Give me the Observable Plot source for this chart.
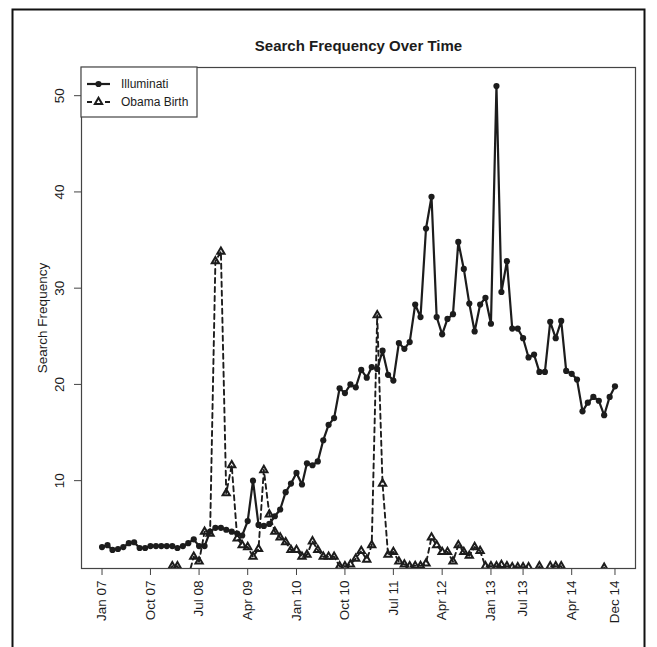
<!DOCTYPE html>
<html>
<head>
<meta charset="utf-8">
<script src="https://cdn.jsdelivr.net/npm/d3@7"></script>
<script src="https://cdn.jsdelivr.net/npm/@observablehq/plot@0.6"></script>
<style>
  html, body { margin: 0; padding: 0; background: #fff; }
  #chart { width: 657px; height: 647px; }
  svg { font-family: "Liberation Sans", Arial, Helvetica, sans-serif; }
</style>
</head>
<body>
<div id="chart"></div>
<script>
// ---- data (monthly, Jan 2007 – Dec 2014) ----
const firstMonth = "2007-01";
const lastMonth = "2014-12";

const illuminati = [
  3.1, 3.3, 2.8, 2.9, 3.1, 3.5, 3.6, 3.0, 3.0, 3.2, 3.2, 3.2,
  3.2, 3.2, 3.0, 3.2, 3.5, 3.9, 3.2, 3.2, 4.7, 5.1, 5.1, 4.9,
  4.7, 4.5, 4.3, 5.8, 10.0, 5.4, 5.3, 5.5, 6.3, 7.0, 8.8, 9.7,
  10.8, 9.6, 11.8, 11.6, 12.0, 14.2, 15.8, 16.5, 19.6, 19.1, 20.0, 19.7,
  21.5, 20.7, 21.8, 21.6, 23.5, 21.0, 20.4, 24.3, 23.7, 24.4, 28.3, 27.0,
  36.2, 39.5, 27.0, 25.2, 26.8, 27.3, 34.8, 32.0, 28.4, 25.5, 28.3, 29.0,
  26.3, 51.0, 29.6, 32.8, 25.8, 25.8, 24.8, 22.8, 23.1, 21.3, 21.3, 26.5,
  24.8, 26.6, 21.4, 21.1, 20.5, 17.2, 18.1, 18.7, 18.3, 16.8, 18.7, 19.8
];

const obamaBirth = [
  0, 0, 0, 0, 0, 0, 0, 0, 0, 0, 0, 0,
  0, 1.1, 1.1, 0, 0, 2.1, 1.6, 4.7, 4.5, 32.8, 33.8, 8.7,
  11.6, 4.0, 3.3, 3.1, 2.1, 2.9, 11.1, 6.5, 4.7, 4.1, 3.6, 2.8,
  2.8, 2.1, 2.3, 3.7, 2.8, 2.1, 2.1, 2.1, 1.1, 1.1, 1.3, 1.9,
  2.7, 1.8, 3.3, 27.2, 9.7, 2.3, 2.6, 1.6, 1.3, 1.1, 1.15, 1.15,
  1.4, 4.1, 3.3, 2.6, 2.6, 1.6, 3.3, 2.6, 2.2, 3.1, 2.7, 1.1,
  1.1, 1.1, 1.25, 1.1, 1.0, 1.0, 1.0, 1.0, 0, 1.1, 0, 1.1,
  1.1, 1.1, 0, 0, 0, 0, 0, 0, 0, 0.95, 0, 0
];

const xTickMonths = ["2007-01", "2007-10", "2008-07", "2009-04", "2010-01", "2010-10",
                     "2011-07", "2012-04", "2013-01", "2013-07", "2014-04", "2014-12"];
const xTickLabels = ["Jan 07", "Oct 07", "Jul 08", "Apr 09", "Jan 10", "Oct 10",
                     "Jul 11", "Apr 12", "Jan 13", "Jul 13", "Apr 14", "Dec 14"];
const yTicks = [10, 20, 30, 40, 50];

const titleText = "Search Frequency Over Time";
const yLabel = "Search Frequency";
const seriesNames = ["Illuminati", "Obama Birth"];

// ---- build ----
const parseMonth = d3.utcParse("%Y-%m");
const start = parseMonth(firstMonth);
const end = parseMonth(lastMonth);
const months = d3.utcMonth.range(start, d3.utcMonth.offset(end, 1));

const illumRows = months.map((date, i) => ({date, value: illuminati[i]}));
const obamaRows = months.map((date, i) => ({date, value: obamaBirth[i]}));

// R-style 4% axis extension
const span = end - start;
const xDomain = [new Date(+start - 0.04 * span), new Date(+end + 0.04 * span)];
const [ymin, ymax] = d3.extent(illuminati);
const yr = ymax - ymin;
const yDomain = [ymin - 0.04 * yr, ymax + 0.04 * yr];

const tickDates = xTickMonths.map(parseMonth);
const labelOf = new Map(tickDates.map((d, i) => [+d, xTickLabels[i]]));

const ink = "#1c1c1c";
const axisInk = "#444";
const fs = 13.5;
const legendFs = 12;

const chart = Plot.plot({
  width: 657,
  height: 647,
  marginLeft: 81,
  marginRight: 22,
  marginTop: 67,
  marginBottom: 79,
  style: {background: "white", fontFamily: "'Liberation Sans', Arial, sans-serif", fontSize: fs + "px", color: ink, overflow: "visible"},
  x: {type: "utc", domain: xDomain},
  y: {domain: yDomain},
  marks: [
    Plot.axisX({ticks: tickDates, tickFormat: d => labelOf.get(+d), tickRotate: -90, tickSize: 7, tickPadding: 5, label: null, stroke: axisInk, fontSize: fs, fill: ink}),
    Plot.axisY({ticks: yTicks, tickSize: 7, tickRotate: -90, tickPadding: 11, label: null, stroke: axisInk, fontSize: fs, fill: ink}),
    Plot.text([yLabel], {frameAnchor: "left", textAnchor: "middle", dx: -39, rotate: -90, fontSize: fs, fill: ink}),
    Plot.text([titleText], {frameAnchor: "top", textAnchor: "middle", dy: -27, fontSize: 15, fontWeight: "bold", fill: ink}),
    Plot.line(illumRows, {x: "date", y: "value", stroke: ink, strokeWidth: 2.2, clip: true}),
    Plot.dot(illumRows, {x: "date", y: "value", r: 3.1, fill: ink, stroke: "none", clip: true}),
    Plot.line(obamaRows, {x: "date", y: "value", stroke: ink, strokeWidth: 1.9, strokeDasharray: "5,4", clip: true}),
    Plot.dot(obamaRows, {x: "date", y: "value", symbol: "triangle", r: 2.7, fill: "none", stroke: ink, strokeWidth: 2, clip: true}),
    Plot.frame({stroke: axisInk, strokeWidth: 1.2})
  ]
});

document.getElementById("chart").appendChild(chart);

// ---- legend and outer border ----
const svg = d3.select(chart);
svg.append("rect")
  .attr("x", 12.5).attr("y", 9.5).attr("width", 632).attr("height", 660)
  .attr("fill", "none").attr("stroke", "#111").attr("stroke-width", 2);

const lg = svg.append("g").attr("text-anchor", "start");
lg.append("rect").attr("x", 81).attr("y", 67).attr("width", 116).attr("height", 50)
  .attr("fill", "white").attr("stroke", axisInk).attr("stroke-width", 1.2);
const rows = [84, 102];
lg.append("line").attr("x1", 87).attr("x2", 110).attr("y1", rows[0]).attr("y2", rows[0])
  .attr("stroke", ink).attr("stroke-width", 2.2);
lg.append("circle").attr("cx", 98.5).attr("cy", rows[0]).attr("r", 3.1).attr("fill", ink);
lg.append("line").attr("x1", 87).attr("x2", 110).attr("y1", rows[1]).attr("y2", rows[1])
  .attr("stroke", ink).attr("stroke-width", 1.9).attr("stroke-dasharray", "5,4");
lg.append("path").attr("d", d3.symbol(d3.symbolTriangle, 2.7 * 2.7 * Math.PI)())
  .attr("transform", `translate(98.5,${rows[1]})`)
  .attr("fill", "white").attr("stroke", ink).attr("stroke-width", 2);
seriesNames.forEach((name, i) => {
  lg.append("text").attr("x", 121).attr("y", rows[i]).attr("dy", "0.35em")
    .attr("text-anchor", "start")
    .attr("font-size", legendFs).attr("fill", ink).text(name);
});
</script>
</body>
</html>
